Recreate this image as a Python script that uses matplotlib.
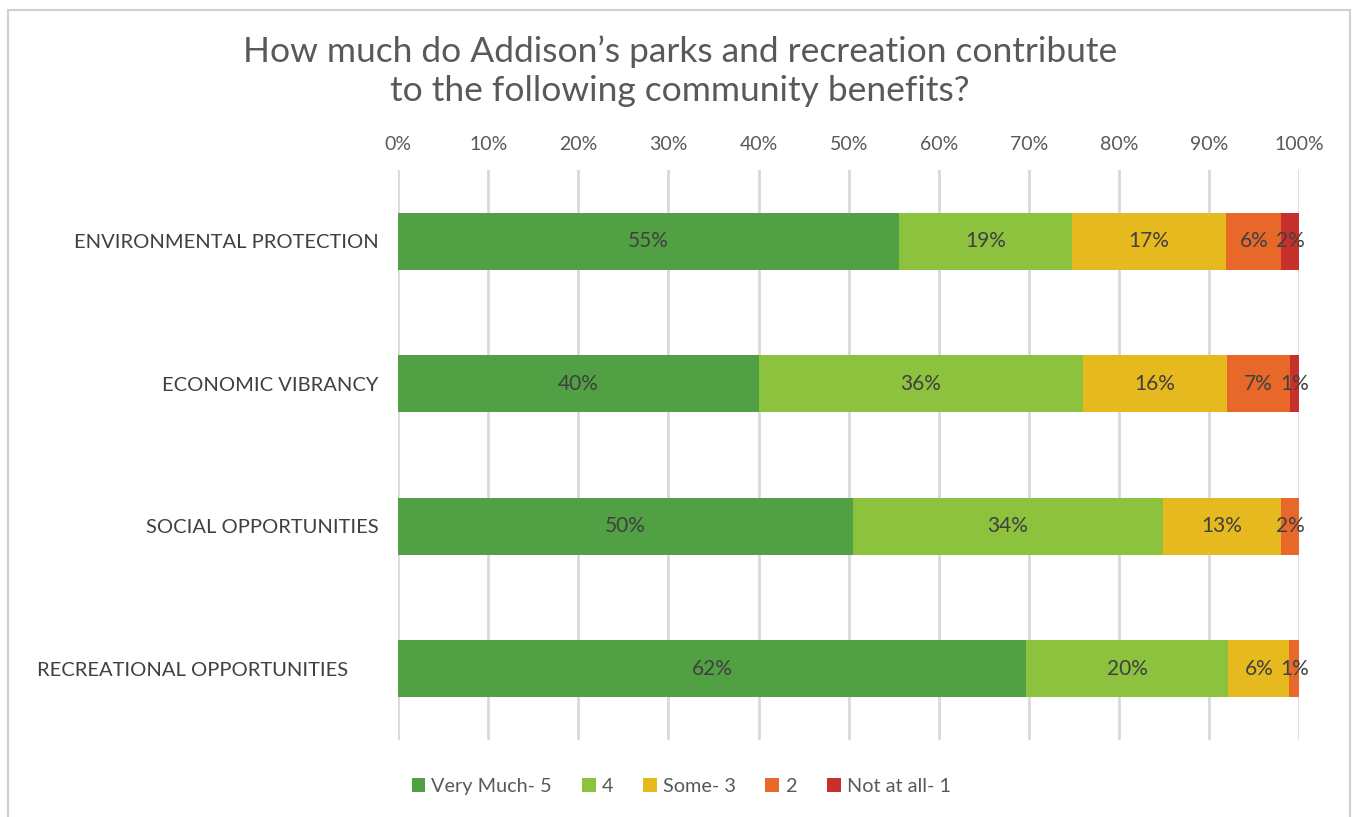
import numpy as np
import matplotlib.pyplot as plt
from matplotlib.patches import Rectangle

categories = ['ENVIRONMENTAL PROTECTION', 'ECONOMIC VIBRANCY',
              'SOCIAL OPPORTUNITIES', 'RECREATIONAL OPPORTUNITIES      ']
series_names = ['Very Much- 5', '4', 'Some- 3', '2', 'Not at all- 1']
very_much = [55, 40, 50, 62]
four = [19, 36, 34, 20]
some = [17, 16, 13, 6]
two = [6, 7, 2, 1]
not_at_all = [2, 1, 0, 0]
colors = ['#52A044', '#8CC23E', '#E6B91F', '#E8682A', '#C8302B']

plt.rcParams['font.family'] = ['Lato', 'DejaVu Sans']

values = np.array([very_much, four, some, two, not_at_all], dtype=float)
shares = values / values.sum(axis=0) * 100

fig = plt.figure(figsize=(13.54, 8.17), dpi=100)
fig.patches.append(Rectangle((8 / 1354, -0.01), 1342 / 1354, 1 - 10 / 817 + 0.01,
                             transform=fig.transFigure, fill=False,
                             edgecolor='#D0D0D0', linewidth=1.5))
ax = fig.add_axes([0.294, 0.094, 0.6656, 0.698])

y = np.arange(len(categories))
left = np.zeros(len(categories))
for i, name in enumerate(series_names):
    bars = ax.barh(y, shares[i], left=left, height=0.4, color=colors[i],
                   label=name, zorder=2)
    for j, b in enumerate(bars):
        if values[i, j] > 0:
            ax.text(left[j] + shares[i, j] / 2, y[j], f'{values[i, j]:.0f}%',
                    ha='center', va='center', fontsize=15, color='#404040',
                    zorder=3)
    left += shares[i]

ax.set_xlim(0, 100)
ax.set_ylim(len(categories) - 0.5, -0.5)
ax.set_xticks(np.arange(0, 101, 10))
ax.set_xticklabels([f'{t}%' for t in range(0, 101, 10)])
ax.xaxis.tick_top()
ax.tick_params(axis='x', length=0, pad=12, labelsize=14, labelcolor='#595959')
ax.set_yticks(y)
ax.set_yticklabels(categories)
ax.tick_params(axis='y', length=0, pad=14, labelsize=14.5, labelcolor='#404040')
ax.grid(axis='x', color='#D9D9D9', linewidth=2, zorder=0)
for s in ax.spines.values():
    s.set_visible(False)

fig.text(0.502, 0.913, 'How much do Addison\u2019s parks and recreation contribute\nto the following community benefits?',
         ha='center', va='center', fontsize=25.5, color='#595959', linespacing=1.3)

handles, labels = ax.get_legend_handles_labels()
fig.legend(handles, labels, loc='center', bbox_to_anchor=(0.503, 0.037), ncol=5,
           frameon=False, fontsize=14.3, labelcolor='#595959', handlelength=0.7,
           handleheight=0.7, handletextpad=0.3, columnspacing=1.5)

fig.savefig('out.png', dpi=100)
